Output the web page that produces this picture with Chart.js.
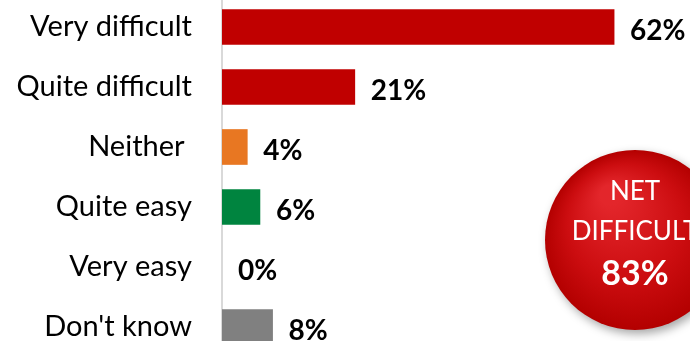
<!DOCTYPE html>
<html>
<head>
<meta charset="utf-8">
<script src="https://cdn.jsdelivr.net/npm/chart.js@4"></script>
<style>
  html, body { margin: 0; padding: 0; background: #fff; }
  #wrap { position: relative; width: 690px; height: 341px; overflow: hidden; }
  #box { position: absolute; left: 0; top: -3px; width: 690px; height: 360px; }
</style>
</head>
<body>
<div id="wrap"><div id="box"><canvas id="grafico"></canvas></div></div>
<script>
// Respostas e percentagens
const categorias = ["Very difficult", "Quite difficult", "Neither ", "Quite easy", "Very easy", "Don't know"];
const valores = [62, 21, 4, 6, 0, 8];
const cores = ["#C00000", "#C00000", "#E87722", "#00843F", "rgba(0,0,0,0)", "#808080"];
const netDificil = valores[0] + valores[1];

const FONTE = "Lato, 'Open Sans', sans-serif";

// Escreve a percentagem à direita de cada barra
const rotulosBarras = {
  id: "rotulosBarras",
  afterDatasetsDraw(chart) {
    const ctx = chart.ctx;
    const meta = chart.getDatasetMeta(0);
    ctx.save();
    ctx.font = "bold 28px " + FONTE;
    ctx.fillStyle = "#000";
    ctx.textAlign = "left";
    ctx.textBaseline = "middle";
    meta.data.forEach((bar, i) => {
      ctx.fillText(valores[i] + "%", bar.x + 16, bar.y + 4);
    });
    ctx.restore();
  },
};

// Bolha vermelha com o total "difícil"
const bolhaNet = {
  id: "bolhaNet",
  afterDraw(chart) {
    const ctx = chart.ctx;
    const cx = 635, cy = 243, r = 90;
    ctx.save();
    ctx.shadowColor = "rgba(0,0,0,0.35)";
    ctx.shadowBlur = 10;
    ctx.shadowOffsetX = 3;
    ctx.shadowOffsetY = 4;
    const grad = ctx.createRadialGradient(cx - 25, cy - 45, 10, cx, cy, r);
    grad.addColorStop(0, "#e3262b");
    grad.addColorStop(0.6, "#cc0d10");
    grad.addColorStop(1, "#b30000");
    ctx.fillStyle = grad;
    ctx.beginPath();
    ctx.arc(cx, cy, r, 0, Math.PI * 2);
    ctx.fill();
    ctx.restore();

    ctx.save();
    ctx.fillStyle = "#fff";
    ctx.textAlign = "center";
    ctx.textBaseline = "middle";
    ctx.font = "26px " + FONTE;
    ctx.fillText("NET", cx, cy - 48);
    ctx.fillText("DIFFICULT", cx, cy - 8);
    ctx.font = "bold 34px " + FONTE;
    ctx.fillText(netDificil + "%", cx, cy + 34);
    ctx.restore();
  },
};

new Chart(document.getElementById("grafico").getContext("2d"), {
  type: "bar",
  data: {
    labels: categorias,
    datasets: [
      {
        data: valores,
        backgroundColor: cores,
        barThickness: 35,
      },
    ],
  },
  options: {
    indexAxis: "y",
    responsive: true,
    maintainAspectRatio: false,
    animation: false,
    layout: { padding: 0, autoPadding: false },
    scales: {
      x: {
        display: false,
        min: 0,
        max: 74,
      },
      y: {
        afterFit(scale) {
          scale.width = 222;
          scale.paddingTop = 0;
          scale.paddingBottom = 0;
        },
        grid: { display: false, drawTicks: false },
        border: { display: true, color: "#d9d9d9", width: 2 },
        ticks: {
          color: "#000",
          padding: 30,
          font: { family: FONTE, size: 29 },
        },
      },
    },
    plugins: {
      legend: { display: false },
      tooltip: { enabled: false },
    },
  },
  plugins: [rotulosBarras, bolhaNet],
});
</script>
</body>
</html>
